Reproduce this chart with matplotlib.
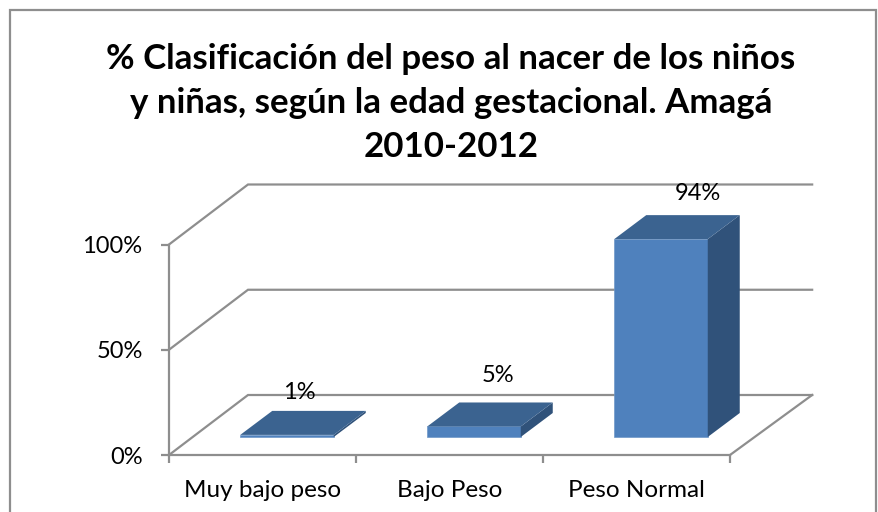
#!/usr/bin/env python3
import matplotlib
matplotlib.use("Agg")
import matplotlib.pyplot as plt
from matplotlib.patches import Polygon, Rectangle

categories = ['Muy bajo peso', 'Bajo Peso', 'Peso Normal']
values = [1, 5, 94]
value_labels = ['1%', '5%', '94%']
y_ticks = [0, 50, 100]
y_tick_labels = ['0%', '50%', '100%']

title = "% Clasificación del peso al nacer de los niños\ny niñas, según la edad gestacional. Amagá\n2010-2012"

W, H = 879, 512
plt.rcParams['font.family'] = ['Lato', 'DejaVu Sans']

fig = plt.figure(figsize=(W / 100, H / 100), dpi=100)

# outer chart border
fig.add_artist(Rectangle((10 / W, -0.05), 866 / W, 1.05 - 10 / H, transform=fig.transFigure,
                         fill=False, edgecolor='#8e8e8e', linewidth=1.6))

fig.text(451 / W, 1 - 103 / H, title, ha='center', va='center', fontsize=25.1,
         fontweight='bold', color='black', linespacing=1.48)

# axes covers the front plane of the 3D box
ax = fig.add_axes([169 / W, 1 - 455 / H, 561 / W, 210.5 / H])
ax.set_xlim(0, 3)
ax.set_ylim(0, 100)
ax.patch.set_visible(False)

grid_color = '#8e8e8e'
# depth of the floor in data units
depth_x = 79 / 187
depth_y = 60 / 2.105

for t in y_ticks:
    ax.plot([0, depth_x, 3 + depth_x * 1.04], [t, t + depth_y, t + depth_y], color=grid_color,
            lw=1.6, clip_on=False, zorder=1, solid_joinstyle='miter')
ax.plot([3, 3 + depth_x * 1.04], [0, depth_y], color=grid_color, lw=1.6, clip_on=False, zorder=1)

for s in ['top', 'right']:
    ax.spines[s].set_visible(False)
for s in ['left', 'bottom']:
    ax.spines[s].set_color(grid_color)
    ax.spines[s].set_linewidth(1.6)

ax.set_yticks(y_ticks)
ax.set_yticklabels(y_tick_labels, fontsize=17)
ax.set_xticks([0, 1, 2, 3])
ax.set_xticklabels([])
ax.set_xticks([0.5, 1.5, 2.5], minor=True)
ax.set_xticklabels(categories, minor=True, fontsize=17.5)
ax.tick_params(axis='y', color=grid_color, width=1.6, length=6, pad=13)
ax.tick_params(axis='x', which='major', color=grid_color, width=1.6, length=6)
ax.tick_params(axis='x', which='minor', length=0, pad=18)

# bars
bar_w = 0.5
base_x = (18 * 79 / 60 + 0.8) / 187   # shift of the bar into the floor
base_y = 18 / 2.105
bar_dx = 32 / 187
bar_dy = 24 / 2.105
label_offsets = [(-20, 18), (-8, 27), (5, 22)]  # px from back top of bar

for i, v in enumerate(values):
    x0 = i + 0.5 - bar_w / 2 + base_x
    x1 = x0 + bar_w
    y0 = base_y
    y1 = base_y + v
    ax.add_patch(Polygon([(x0, y0), (x1, y0), (x1, y1), (x0, y1)], closed=True,
                         facecolor='#4f81bd', edgecolor='#6f97c8', lw=0.5, clip_on=False, zorder=3))
    ax.add_patch(Polygon([(x1, y0), (x1 + bar_dx, y0 + bar_dy), (x1 + bar_dx, y1 + bar_dy), (x1, y1)],
                         closed=True, facecolor='#30527a', edgecolor='none', clip_on=False, zorder=3))
    ax.add_patch(Polygon([(x0, y1), (x1, y1), (x1 + bar_dx, y1 + bar_dy), (x0 + bar_dx, y1 + bar_dy)],
                         closed=True, facecolor='#3b6390', edgecolor='none', clip_on=False, zorder=4))
    ox, oy = label_offsets[i]
    ax.annotate(value_labels[i], xy=((x0 + x1) / 2 + bar_dx, y1 + bar_dy), xytext=(ox, oy),
                textcoords=('offset pixels'), ha='center', va='center', fontsize=17,
                color='black', zorder=5, annotation_clip=False)

fig.savefig('out.png', dpi=100, facecolor='white')
plt.close(fig)
